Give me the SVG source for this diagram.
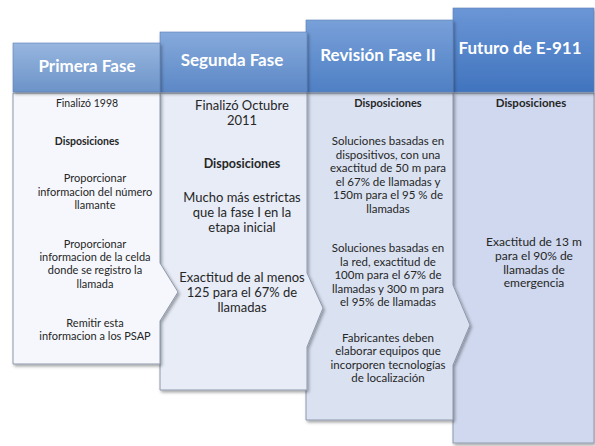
<svg xmlns="http://www.w3.org/2000/svg" width="595" height="446" viewBox="0 0 595 446">
<defs>
  <linearGradient id="h1" x1="0" y1="0" x2="0" y2="1"><stop offset="0" stop-color="#97b6df"/><stop offset="1" stop-color="#6c93c8"/></linearGradient>
  <linearGradient id="h2" x1="0" y1="0" x2="0" y2="1"><stop offset="0" stop-color="#86aadc"/><stop offset="1" stop-color="#5c88c6"/></linearGradient>
  <linearGradient id="h3" x1="0" y1="0" x2="0" y2="1"><stop offset="0" stop-color="#78a0d9"/><stop offset="1" stop-color="#4f80c4"/></linearGradient>
  <linearGradient id="h4" x1="0" y1="0" x2="0" y2="1"><stop offset="0" stop-color="#6b96d6"/><stop offset="1" stop-color="#4074be"/></linearGradient>
  <filter id="sh" x="-10%" y="-10%" width="130%" height="130%">
    <feDropShadow dx="1.5" dy="2" stdDeviation="1.5" flood-color="#000" flood-opacity="0.35"/>
  </filter>
  <style>
    .hdr { stroke:#5a7fb5; stroke-width:0.6; filter:url(#sh); }
    .body { stroke:#8e98ab; stroke-width:1; filter:url(#sh); }
    .ht { font-family:Lato, "Liberation Sans", sans-serif; font-weight:bold; font-size:17px; fill:#ffffff; text-anchor:middle; }
    .t { font-family:Lato, "Liberation Sans", sans-serif; fill:#262626; text-anchor:middle; }
    .b { font-weight:bold; }
    .s1 { font-size:11px; }
    .s2 { font-size:13px; }
    .s3 { font-size:11.5px; }
    .s4 { font-size:12px; }
  </style>
</defs>
<rect width="595" height="446" fill="#ffffff"/>

<g id="phase4">
  <rect class="body" x="453" y="93" width="141" height="350" fill="#cfd8ee"/>
  <rect class="hdr" x="453" y="8" width="141" height="84" fill="url(#h4)"/>
  <text class="ht" x="520" y="54">Futuro de E-911</text>
  <text class="t s4 b" x="531" y="107" style="font-size:11.5px">Disposiciones</text>
  <text class="t s4" x="534" y="246">Exactitud de 13 m<tspan x="534" dy="13.8">para el 90% de</tspan><tspan x="534" dy="13.8">llamadas de</tspan><tspan x="534" dy="13.8">emergencia</tspan></text>
</g>

<g id="phase3">
  <polygon class="body" points="306,93 453,93 453,285 470,325 453,365 453,420 306,420" fill="#dae2f2"/>
  <rect class="hdr" x="306" y="20" width="147" height="72" fill="url(#h3)"/>
  <text class="ht" x="378" y="61">Revisión Fase II</text>
  <text class="t s3 b" x="388" y="107" style="font-size:11px">Disposiciones</text>
  <text class="t s3" x="388" y="145">Soluciones basadas en<tspan x="388" dy="13.6">dispositivos, con una</tspan><tspan x="388" dy="13.6">exactitud de 50 m para</tspan><tspan x="388" dy="13.6">el 67% de llamadas y</tspan><tspan x="388" dy="13.6">150m para el 95 % de</tspan><tspan x="388" dy="13.6">llamadas</tspan></text>
  <text class="t s3" x="388" y="252">Soluciones basadas en<tspan x="388" dy="13.5">la red, exactitud de</tspan><tspan x="388" dy="13.5">100m para el 67% de</tspan><tspan x="388" dy="13.5">llamadas y 300 m para</tspan><tspan x="388" dy="13.5">el 95% de llamadas</tspan></text>
  <text class="t s3" x="388" y="342">Fabricantes deben<tspan x="388" dy="13.4">elaborar equipos que</tspan><tspan x="388" dy="13.4">incorporen tecnologías</tspan><tspan x="388" dy="13.4">de localización</tspan></text>
</g>

<g id="phase2">
  <polygon class="body" points="160,93 307,93 307,273 323,308 307,347 307,390 160,390" fill="#e7ecf7"/>
  <rect class="hdr" x="160" y="32" width="147" height="60" fill="url(#h2)"/>
  <text class="ht" x="232" y="66">Segunda Fase</text>
  <text class="t s2" x="242" y="110">Finalizó  Octubre<tspan x="242" dy="15">2011</tspan></text>
  <text class="t s2 b" x="242" y="168" style="font-size:12.5px">Disposiciones</text>
  <text class="t s2" x="242" y="202">Mucho más estrictas<tspan x="242" dy="15">que la fase I en la</tspan><tspan x="242" dy="15">etapa inicial</tspan></text>
  <text class="t s2" x="242" y="282">Exactitud de al menos<tspan x="242" dy="15">125 para el 67% de</tspan><tspan x="242" dy="15">llamadas</tspan></text>
</g>

<g id="phase1">
  <polygon class="body" points="13,93 160,93 160,263 178,292 160,321 160,364 13,364" fill="#f5f7fc"/>
  <rect class="hdr" x="13" y="43" width="147" height="49" fill="url(#h1)"/>
  <text class="ht" x="87" y="72">Primera Fase</text>
  <text class="t s1" x="87" y="107" style="font-size:10.5px">Finalizó 1998</text>
  <text class="t s1 b" x="87" y="145" style="font-size:10.5px">Disposiciones</text>
  <text class="t s1" x="95" y="182">Proporcionar<tspan x="95" dy="13.5">informacion del número</tspan><tspan x="95" dy="13.5">llamante</tspan></text>
  <text class="t s1" x="95" y="248">Proporcionar<tspan x="95" dy="13.2">informacion de la celda</tspan><tspan x="95" dy="13.2">donde se registro la</tspan><tspan x="95" dy="13.2">llamada</tspan></text>
  <text class="t s1" x="95" y="327">Remitir esta<tspan x="95" dy="13">informacion a los PSAP</tspan></text>
</g>
</svg>
